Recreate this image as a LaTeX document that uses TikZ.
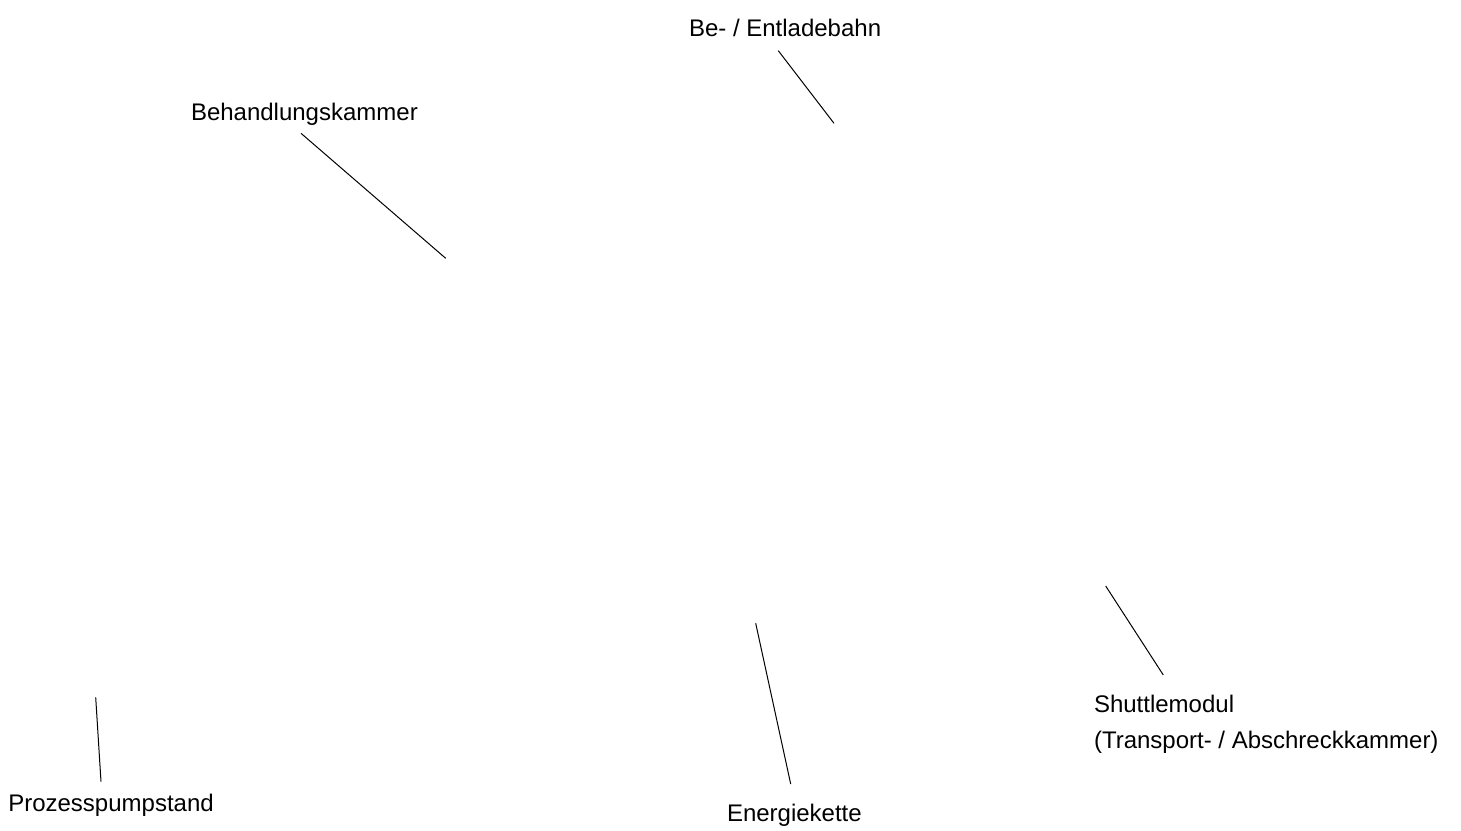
\documentclass[tikz,border=0pt]{standalone}
\usepackage{fontspec}
\setmainfont{Liberation Sans}
\begin{document}
\begin{tikzpicture}[x=1pt,y=-1pt,
  lbl/.style={inner sep=0pt,outer sep=0pt,anchor=base west,font=\fontsize{24}{36}\selectfont},
  leader/.style={draw=black,line width=1pt}]
\useasboundingbox (0,0) rectangle (1461,830);
% labels
\node[lbl] (bahn) at (689,36.7) {Be- / Entladebahn};
\node[lbl] (kammer) at (191,120) {Behandlungskammer};
\node[lbl,anchor=north west,align=left] (shuttle) at (1094,695) {Shuttlemodul\\(Transport- / Abschreckkammer)};
\node[lbl] (pump) at (8.3,811.7) {Prozesspumpstand};
\node[lbl] (energie) at (727,821.7) {Energiekette};
% leader end points
\coordinate (bahnA) at (778.3,50.7);
\coordinate (bahnB) at (834,123.3);
\coordinate (kammerA) at (301,133.3);
\coordinate (kammerB) at (445.7,258.3);
\coordinate (shuttleA) at (1163.3,675);
\coordinate (shuttleB) at (1105.7,586);
\coordinate (pumpA) at (101,781.7);
\coordinate (pumpB) at (95.7,697.3);
\coordinate (energieA) at (790.7,784);
\coordinate (energieB) at (755.7,623.3);
\draw[leader] (bahnA) -- (bahnB);
\draw[leader] (kammerA) -- (kammerB);
\draw[leader] (shuttleA) -- (shuttleB);
\draw[leader] (pumpA) -- (pumpB);
\draw[leader] (energieA) -- (energieB);
\end{tikzpicture}
\end{document}
